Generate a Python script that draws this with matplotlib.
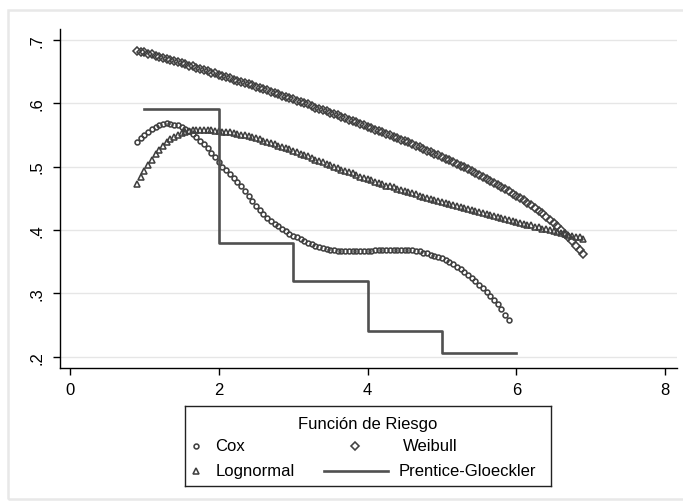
import matplotlib
matplotlib.use("Agg")
import matplotlib.pyplot as plt
from matplotlib.patches import Rectangle

plt.rcParams['font.family'] = ['Liberation Sans', 'DejaVu Sans']

# tiempos de evaluación
times = [0.90, 0.95, 1.00, 1.05, 1.10, 1.15, 1.20, 1.25, 1.30, 1.35,
         1.40, 1.45, 1.50, 1.55, 1.60, 1.65, 1.70, 1.75, 1.80, 1.85,
         1.90, 1.95, 2.00, 2.05, 2.10, 2.15, 2.20, 2.25, 2.30, 2.35,
         2.40, 2.45, 2.50, 2.55, 2.60, 2.65, 2.70, 2.75, 2.80, 2.85,
         2.90, 2.95, 3.00, 3.05, 3.10, 3.15, 3.20, 3.25, 3.30, 3.35,
         3.40, 3.45, 3.50, 3.55, 3.60, 3.65, 3.70, 3.75, 3.80, 3.85,
         3.90, 3.95, 4.00, 4.05, 4.10, 4.15, 4.20, 4.25, 4.30, 4.35,
         4.40, 4.45, 4.50, 4.55, 4.60, 4.65, 4.70, 4.75, 4.80, 4.85,
         4.90, 4.95, 5.00, 5.05, 5.10, 5.15, 5.20, 5.25, 5.30, 5.35,
         5.40, 5.45, 5.50, 5.55, 5.60, 5.65, 5.70, 5.75, 5.80, 5.85,
         5.90, 5.95, 6.00, 6.05, 6.10, 6.15, 6.20, 6.25, 6.30, 6.35,
         6.40, 6.45, 6.50, 6.55, 6.60, 6.65, 6.70, 6.75, 6.80, 6.85,
         6.90]

weibull = [.683, .681, .680, .678, .677, .675, .673, .671, .670, .668,
           .666, .665, .663, .661, .659, .658, .656, .654, .652, .650,
           .648, .647, .645, .643, .641, .639, .637, .635, .634, .632,
           .630, .628, .626, .624, .622, .620, .618, .616, .614, .612,
           .610, .608, .606, .604, .602, .600, .598, .596, .593, .591,
           .589, .587, .585, .583, .581, .578, .576, .574, .572, .570,
           .567, .565, .563, .561, .558, .556, .554, .551, .549, .547,
           .545, .542, .540, .538, .535, .533, .530, .528, .525, .523,
           .520, .518, .515, .512, .510, .507, .504, .501, .499, .496,
           .493, .490, .487, .484, .481, .477, .474, .471, .468, .464,
           .461, .457, .454, .451, .447, .443, .439, .435, .430, .426,
           .421, .416, .411, .406, .400, .394, .388, .382, .375, .369,
           .362]

lognormal = [.472, .483, .493, .502, .511, .519, .526, .532, .538, .543,
             .547, .550, .553, .555, .556, .557, .557, .557, .557, .557,
             .557, .556, .556, .555, .555, .554, .553, .552, .550, .549,
             .548, .546, .545, .543, .541, .539, .537, .535, .533, .531,
             .529, .527, .525, .523, .520, .518, .516, .513, .511, .509,
             .507, .504, .502, .500, .498, .495, .493, .491, .489, .486,
             .484, .482, .480, .478, .476, .474, .472, .470, .469, .467,
             .465, .463, .461, .459, .458, .456, .454, .452, .451, .449,
             .447, .446, .444, .442, .441, .439, .438, .436, .434, .433,
             .431, .430, .428, .426, .425, .423, .422, .420, .419, .417,
             .416, .414, .413, .411, .410, .408, .407, .405, .404, .402,
             .401, .399, .398, .396, .395, .394, .392, .391, .389, .388,
             .386]

cox = [.539, .545, .550, .555, .559, .562, .565, .567, .568, .567,
       .566, .565, .563, .559, .556, .552, .546, .540, .535, .529,
       .522, .515, .507, .500, .494, .488, .482, .476, .469, .461,
       .453, .445, .438, .432, .425, .419, .414, .410, .406, .402,
       .398, .394, .391, .388, .385, .382, .379, .377, .375, .373,
       .371, .370, .369, .368, .367, .367, .366, .366, .366, .366,
       .366, .366, .367, .367, .368, .368, .369, .369, .369, .369,
       .369, .369, .369, .369, .369, .367, .366, .364, .363, .361,
       .359, .357, .355, .352, .349, .346, .342, .338, .334, .329,
       .324, .319, .313, .308, .302, .296, .290, .283, .275, .266,
       .257]
cox_times = times[:len(cox)]

# Prentice-Gloeckler (escalones)
pg_times = [1, 2, 3, 4, 5, 6]
pg_values = [0.59, 0.38, 0.32, 0.24, 0.205, 0.205]

xticks = [0, 2, 4, 6, 8]
yticks = [0.2, 0.3, 0.4, 0.5, 0.6, 0.7]
ylabels = ['.2', '.3', '.4', '.5', '.6', '.7']

W, H = 683, 502
fig = plt.figure(figsize=(W / 100, H / 100), dpi=100)
fig.patches.append(Rectangle((8 / W, 1 - 500 / H), 700 / W, 489 / H,
                             transform=fig.transFigure, fill=False,
                             edgecolor='#e8e8e8', linewidth=1.8))

ax = fig.add_axes([60 / W, 1 - 369 / H, 617 / W, 339 / H])
ax.set_xlim(-0.134, 8.16)
ax.set_ylim(0.182, 0.717)

mc = '#404040'
mew = 1.15
ms_o, ms_d, ms_t = 3.5, 4.0, 4.8
ax.plot(cox_times, cox, linestyle='none', marker='o', markersize=ms_o,
        markerfacecolor='none', markeredgecolor=mc, markeredgewidth=mew)
ax.plot(times, weibull, linestyle='none', marker='D', markersize=ms_d,
        markerfacecolor='none', markeredgecolor=mc, markeredgewidth=mew)
ax.plot(times, lognormal, linestyle='none', marker='^', markersize=ms_t,
        markerfacecolor='none', markeredgecolor=mc, markeredgewidth=mew)
ax.plot(pg_times, pg_values, drawstyle='steps-post', color='#505050',
        linewidth=1.9)

for s in ['top', 'right']:
    ax.spines[s].set_visible(False)
for s in ['left', 'bottom']:
    ax.spines[s].set_linewidth(1.0)
    ax.spines[s].set_color('black')

ax.set_xticks(xticks)
ax.set_yticks(yticks)
ax.set_yticklabels(ylabels, rotation=90, va='center')
ax.tick_params(axis='both', direction='out', length=5, width=1,
               labelsize=12, color='black')
ax.tick_params(axis='y', pad=6)
ax.tick_params(axis='x', pad=5)
ax.yaxis.grid(True, color='#e6e6e6', linewidth=1.0)
ax.set_axisbelow(True)

# leyenda
leg = fig.add_axes([185 / W, 1 - 487 / H, 366 / W, 80 / H])
leg.set_xlim(0, 366)
leg.set_ylim(80, 0)
leg.set_xticks([])
leg.set_yticks([])
for s in leg.spines.values():
    s.set_linewidth(1.0)
    s.set_color('#222222')

leg.text(183, 17, 'Función de Riesgo', ha='center', va='center', fontsize=12)
leg.plot([11], [40], marker='o', markersize=ms_o, markerfacecolor='none',
         markeredgecolor=mc, markeredgewidth=mew, linestyle='none')
leg.text(30.6, 40, 'Cox', ha='left', va='center', fontsize=12)
leg.plot([170], [40], marker='D', markersize=ms_d, markerfacecolor='none',
         markeredgecolor=mc, markeredgewidth=mew, linestyle='none')
leg.text(218, 40, 'Weibull', ha='left', va='center', fontsize=12)
leg.plot([11], [65], marker='^', markersize=ms_t, markerfacecolor='none',
         markeredgecolor=mc, markeredgewidth=mew, linestyle='none')
leg.text(30.6, 65, 'Lognormal', ha='left', va='center', fontsize=12)
leg.plot([139.5, 202.6], [65, 65], color='#505050', linewidth=1.9)
leg.text(213.5, 65, 'Prentice-Gloeckler', ha='left', va='center', fontsize=12)

fig.savefig('out.png', dpi=100)
